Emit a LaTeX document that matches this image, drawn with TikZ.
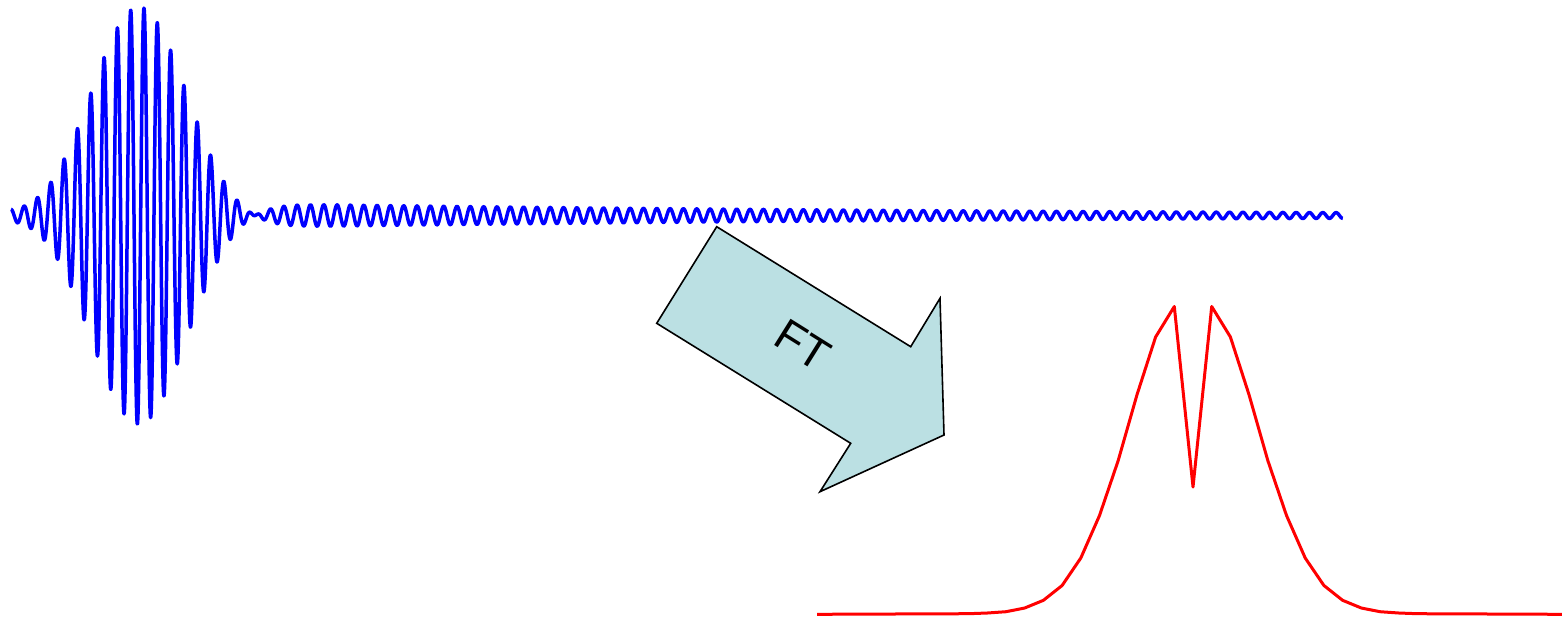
\documentclass[tikz,border=0pt]{standalone}
\usepackage{fontspec}
\setmainfont{Liberation Sans}
\definecolor{ftfill}{RGB}{187,224,227}

\begin{document}
\begin{tikzpicture}[x=1pt,y=-1pt,
  fid/.style={draw=blue,line width=3.5pt,line join=round},
  spec/.style={draw=red,line width=3pt,line join=round},
  ftarrow/.style={draw=black,line width=1.6pt,fill=ftfill,line join=miter},
  ftlabel/.style={font=\fontsize{45}{45}\selectfont,rotate=-32,inner sep=0pt},
  declare function={
    env(\t)=2.21*exp(-min((\t-1.39)*(\t-1.39)/0.4608,9));
    tl(\t)=0.115*exp(-(\t-2.9)/7.57)*(1-exp(-min((\t-0.11)/0.6,9)));
    sig(\t)=(env(\t)-tl(\t))*cos(360*mod((\t-1.44)/0.1332,1));}]
\useasboundingbox (0,0) rectangle (1562,616);
% free induction decay
\draw[fid] plot[domain=0.11:3.0,samples=1200] ({100*\x},{215.5-100*sig(\x)})
  -- plot[domain=3.0:13.43,samples=1500] ({100*\x},{215.5-100*sig(\x)});
% FT arrow
\coordinate (a1) at (716.7,226.7);
\coordinate (a2) at (910.7,346.7);
\coordinate (a3) at (940,298.3);
\coordinate (a4) at (944,435);
\coordinate (a5) at (820,491.7);
\coordinate (a6) at (850.7,443.3);
\coordinate (a7) at (656.7,323.3);
\draw[ftarrow] (a1)--(a2)--(a3)--(a4)--(a5)--(a6)--(a7)--cycle;
\node[ftlabel] (ft) at (803,345) {FT};
% spectrum
\draw[spec] plot coordinates {(817,614.3) (968.6,613.7) (987.3,613) (1006,611.7)
  (1024.7,608) (1043.4,600.3) (1062.1,585.5) (1080.8,558) (1099.5,515.5)
  (1118.2,460.5) (1136.9,395) (1155.6,337) (1174.3,306.5) (1193,487)
  (1211.7,306.5) (1230.4,337) (1249.1,395) (1267.8,460.5) (1286.5,515.5)
  (1305.2,558) (1323.9,585.5) (1342.6,600.3) (1361.3,608) (1380,611.7)
  (1398.7,613) (1417.4,613.7) (1562,614.3)};
\end{tikzpicture}
\end{document}
